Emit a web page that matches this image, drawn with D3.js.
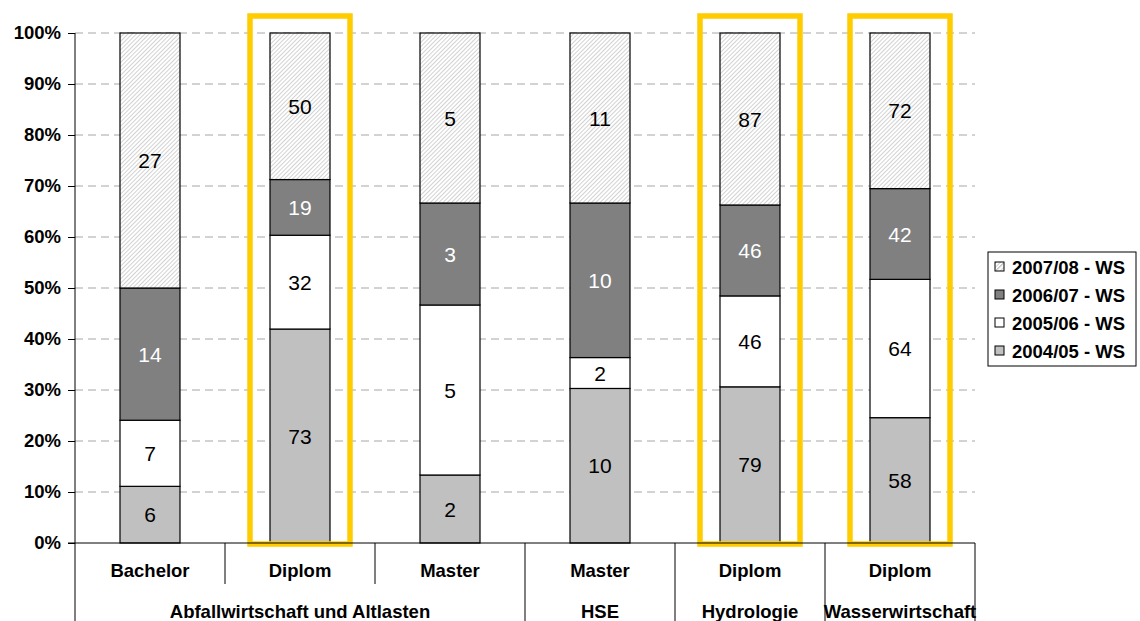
<!DOCTYPE html>
<html>
<head>
<meta charset="utf-8">
<script src="https://cdn.jsdelivr.net/npm/d3@7"></script>
<style>
  html, body { margin: 0; padding: 0; background: #fff; }
  svg { display: block; font-family: "Liberation Sans", Arial, sans-serif; }
</style>
</head>
<body>
<svg id="chart" width="1140" height="621"></svg>
<script>
// Study programmes (sub-category, group) and student counts per winter semester
const programmes = ["Bachelor", "Diplom", "Master", "Master", "Diplom", "Diplom"];
const groups = [
  { name: "Abfallwirtschaft und Altlasten", span: [0, 3] },
  { name: "HSE", span: [3, 4] },
  { name: "Hydrologie", span: [4, 5] },
  { name: "Wasserwirtschaft", span: [5, 6] }
];
const seriesNames = ["2004/05 - WS", "2005/06 - WS", "2006/07 - WS", "2007/08 - WS"];
const ws0405 = [6, 73, 2, 10, 79, 58];
const ws0506 = [7, 32, 5, 2, 46, 64];
const ws0607 = [14, 19, 3, 10, 46, 42];
const ws0708 = [27, 50, 5, 11, 87, 72];
const highlighted = [1, 4, 5];
const yTicks = [0, 0.1, 0.2, 0.3, 0.4, 0.5, 0.6, 0.7, 0.8, 0.9, 1.0];

const seriesValues = [ws0405, ws0506, ws0607, ws0708];
const fills = ["#c0c0c0", "#ffffff", "#808080", "url(#hatch)"];
const labelColors = ["#000", "#000", "#fff", "#000"];
const FONT = "'Liberation Sans', Arial, sans-serif";

const svg = d3.select("#chart");
const margin = { left: 75, right: 975, top: 33, bottom: 543 };

// hatch pattern for the latest semester
const defs = svg.append("defs");
const pat = defs.append("pattern")
  .attr("id", "hatch").attr("patternUnits", "userSpaceOnUse")
  .attr("width", 3).attr("height", 3)
  .attr("patternTransform", "rotate(45)");
pat.append("rect").attr("width", 3).attr("height", 3).attr("fill", "#fff");
pat.append("line").attr("x1", 0.5).attr("y1", 0).attr("x2", 0.5).attr("y2", 3)
  .attr("stroke", "#d2d2d2").attr("stroke-width", 1);

const x = d3.scaleBand().domain(d3.range(programmes.length))
  .range([margin.left, margin.right]).paddingInner(0).paddingOuter(0);
const y = d3.scaleLinear().domain([0, 1]).range([margin.bottom, margin.top]);
const barW = 60;

// gridlines
svg.append("g").selectAll("line").data(yTicks.filter(t => t > 0)).join("line")
  .attr("x1", margin.left).attr("x2", margin.right)
  .attr("y1", d => y(d)).attr("y2", d => y(d))
  .attr("stroke", "#a6a6a6").attr("stroke-width", 1)
  .attr("stroke-dasharray", "8,5");

// y axis
const yAxis = d3.axisLeft(y).tickValues(yTicks).tickSize(7).tickPadding(7)
  .tickFormat(d3.format(".0%"));
const gy = svg.append("g").attr("transform", `translate(${margin.left},0)`).call(yAxis);
gy.select(".domain").remove();
gy.selectAll(".tick line").attr("stroke", "#000");
gy.selectAll(".tick text").attr("font-size", 18.5).attr("font-weight", "bold")
  .attr("font-family", FONT).attr("fill", "#000");

// stacked shares
const table = programmes.map((p, i) => {
  const row = { i };
  seriesNames.forEach((s, k) => row[s] = seriesValues[k][i]);
  return row;
});
const stacked = d3.stack().keys(seriesNames).offset(d3.stackOffsetExpand)(table);

const bars = svg.append("g");
stacked.forEach((layer, k) => {
  const g = bars.append("g");
  g.selectAll("rect").data(layer).join("rect")
    .attr("x", d => x(d.data.i) + x.bandwidth() / 2 - barW / 2)
    .attr("width", barW)
    .attr("y", d => y(d[1]))
    .attr("height", d => y(d[0]) - y(d[1]))
    .attr("fill", fills[k]).attr("stroke", "#000").attr("stroke-width", 1.2);
  g.selectAll("text").data(layer).join("text")
    .attr("x", d => x(d.data.i) + x.bandwidth() / 2)
    .attr("y", d => (y(d[0]) + y(d[1])) / 2)
    .attr("dy", "0.36em").attr("text-anchor", "middle")
    .attr("font-size", 21).attr("fill", labelColors[k])
    .text(d => d.data[seriesNames[k]]);
});

// highlight frames
svg.append("g").selectAll("rect").data(highlighted).join("rect")
  .attr("x", d => x(d) + x.bandwidth() / 2 - 50)
  .attr("width", 100)
  .attr("y", 16).attr("height", y(0) + 1 - 16)
  .attr("fill", "none").attr("stroke", "#ffcc00").attr("stroke-width", 5.5);

// axes lines
svg.append("line").attr("x1", margin.left).attr("x2", margin.left)
  .attr("y1", margin.top).attr("y2", 621).attr("stroke", "#000");
svg.append("line").attr("x1", margin.left - 7).attr("x2", margin.right)
  .attr("y1", y(0)).attr("y2", y(0)).attr("stroke", "#000");

// category separators and labels
const cat = svg.append("g");
const groupEdges = new Set(groups.flatMap(g => g.span));
d3.range(1, programmes.length + 1).forEach(i => {
  const xx = x.range()[0] + i * x.step();
  cat.append("line").attr("x1", xx).attr("x2", xx)
    .attr("y1", y(0)).attr("y2", groupEdges.has(i) ? 621 : 584)
    .attr("stroke", "#000");
});
cat.selectAll("text.sub").data(programmes).join("text").attr("class", "sub")
  .attr("x", (d, i) => x(i) + x.bandwidth() / 2).attr("y", 577)
  .attr("text-anchor", "middle").attr("font-size", 18.5).attr("font-weight", "bold")
  .text(d => d);
cat.selectAll("text.grp").data(groups).join("text").attr("class", "grp")
  .attr("x", d => (x(d.span[0]) + x(d.span[1] - 1) + x.bandwidth()) / 2).attr("y", 618)
  .attr("text-anchor", "middle").attr("font-size", 18.5).attr("font-weight", "bold")
  .text(d => d.name);

// legend
const legend = svg.append("g").attr("transform", "translate(988,252)");
legend.append("rect").attr("width", 148).attr("height", 114)
  .attr("fill", "#fff").attr("stroke", "#000");
const order = [3, 2, 1, 0];
order.forEach((k, j) => {
  const row = legend.append("g").attr("transform", `translate(7,${15 + j * 28})`);
  row.append("rect").attr("x", 0).attr("y", -5).attr("width", 9).attr("height", 9)
    .attr("fill", fills[k]).attr("stroke", "#000");
  if (k === 3) {
    row.append("line").attr("x1", 1).attr("y1", 3).attr("x2", 8).attr("y2", -4)
      .attr("stroke", "#c8c8c8");
  }
  row.append("text").attr("x", 17).attr("y", 0).attr("dy", "0.36em")
    .attr("font-size", 18.5).attr("font-weight", "bold").text(seriesNames[k]);
});
</script>
</body>
</html>
